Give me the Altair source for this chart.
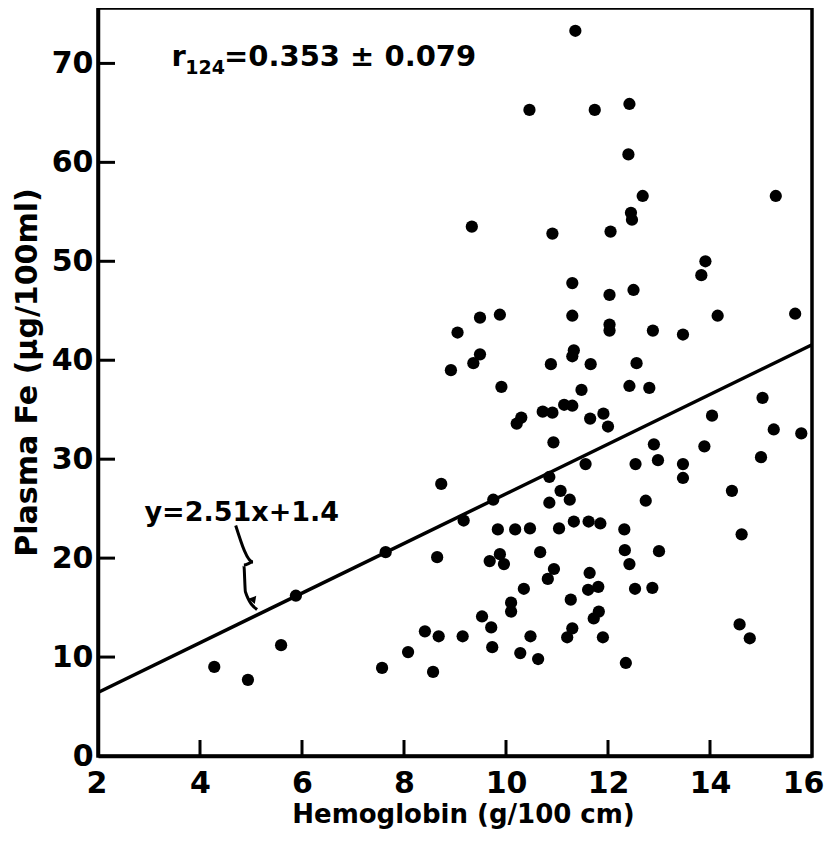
import altair as alt
import pandas as pd

# Data (Hemoglobin g/100 cm vs Plasma Fe ug/100ml)
hb = [11.36, 10.46, 11.74, 12.42, 12.40, 12.68, 15.29, 12.45, 12.47, 9.33,
      10.91, 12.05, 13.91, 13.83, 11.30, 12.03, 12.50, 9.49, 9.88, 9.05,
      11.30, 12.03, 12.03, 12.88, 13.47, 14.15, 15.67, 9.49, 9.36, 8.92,
      11.33, 11.30, 10.88, 11.66, 12.56, 9.91, 11.48, 12.42, 12.81, 15.03,
      10.72, 10.91, 11.14, 11.30, 10.30, 10.21, 11.65, 11.91, 12.00, 14.04,
      15.25, 15.79, 10.93, 12.90, 13.89, 12.54, 12.98, 13.47, 13.47, 15.00,
      11.56, 10.85, 8.73, 11.07, 11.25, 10.85, 12.74, 14.43, 9.75, 9.17,
      9.84, 10.18, 10.47, 11.04, 11.33, 11.62, 11.85, 12.32, 14.62, 8.65,
      9.68, 9.88, 9.96, 10.67, 10.94, 10.82, 12.33, 12.42, 13.00, 11.64,
      11.61, 11.81, 10.35, 12.53, 12.87, 11.27, 10.10, 10.10, 9.53, 9.71,
      11.82, 11.72, 14.58, 14.78, 11.30, 11.20, 10.48, 11.90, 8.68, 9.15,
      9.73, 10.28, 10.63, 12.35, 7.64, 5.88, 8.41, 8.08, 7.57, 8.57,
      5.59, 4.28, 4.94]
fe = [73.3, 65.3, 65.3, 65.9, 60.8, 56.6, 56.6, 54.9, 54.2, 53.5,
      52.8, 53.0, 50.0, 48.6, 47.8, 46.6, 47.1, 44.3, 44.6, 42.8,
      44.5, 43.6, 43.0, 43.0, 42.6, 44.5, 44.7, 40.6, 39.7, 39.0,
      41.0, 40.4, 39.6, 39.6, 39.7, 37.3, 37.0, 37.4, 37.2, 36.2,
      34.8, 34.7, 35.5, 35.4, 34.2, 33.6, 34.1, 34.6, 33.3, 34.4,
      33.0, 32.6, 31.7, 31.5, 31.3, 29.5, 29.9, 29.5, 28.1, 30.2,
      29.5, 28.2, 27.5, 26.8, 25.9, 25.6, 25.8, 26.8, 25.9, 23.8,
      22.9, 22.9, 23.0, 23.0, 23.7, 23.7, 23.5, 22.9, 22.4, 20.1,
      19.7, 20.4, 19.4, 20.6, 18.9, 17.9, 20.8, 19.4, 20.7, 18.5,
      16.8, 17.1, 16.9, 16.9, 17.0, 15.8, 15.5, 14.6, 14.1, 13.0,
      14.6, 13.9, 13.3, 11.9, 12.9, 12.0, 12.1, 12.0, 12.1, 12.1,
      11.0, 10.4, 9.8, 9.4, 20.6, 16.2, 12.6, 10.5, 8.9, 8.5,
      11.2, 9.0, 7.7]

x_ticks = [2, 4, 6, 8, 10, 12, 14, 16]
y_ticks = [0, 10, 20, 30, 40, 50, 60, 70]
x_inner_ticks = [4, 6, 8, 10, 12, 14]
y_inner_ticks = [10, 20, 30, 40, 50, 60, 70]

slope, intercept = 2.51, 1.4
line_x = [2, 16]

# annotation arrow path (data coordinates)
arrow_x = [4.70, 5.04, 4.86, 4.89, 5.12]
arrow_y = [23.3, 19.6, 19.3, 16.6, 14.8]

FONT = "DejaVu Sans"
XDOM = [2, 16]
YDOM = [0, 75.6]
W, H = 714, 748

pts = pd.DataFrame({"hb": hb, "fe": fe})
line_df = pd.DataFrame({"hb": line_x, "fe": [slope * v + intercept for v in line_x]})
arrow_df = pd.DataFrame({"hb": arrow_x, "fe": arrow_y, "o": list(range(len(arrow_x)))})

xs = alt.Scale(domain=XDOM, nice=False, zero=False)
ys = alt.Scale(domain=YDOM, nice=False, zero=False)

xenc = alt.X("hb:Q", scale=xs, axis=alt.Axis(
    values=x_ticks, ticks=False, grid=False, domain=True, domainColor="black",
    domainWidth=3.5, labelFontSize=30,
    labelFont=FONT, labelFontWeight="bold", labelColor="black", labelPadding=12,
    labelFlush=True, labelFlushOffset=12,
    title="Hemoglobin (g/100 cm)", titleFont=FONT, titleFontSize=26,
    titleFontWeight="bold", titleColor="black", titleY=45, titleX=W / 2 + 8,
    titleBaseline="top"))
yenc = alt.Y("fe:Q", scale=ys, axis=alt.Axis(
    values=y_ticks, ticks=False, grid=False, domain=True, domainColor="black",
    domainWidth=3.5, labelFontSize=30,
    labelFont=FONT, labelFontWeight="bold", labelColor="black", labelPadding=5,
    title="Plasma Fe (μg/100ml)", titleFont=FONT, titleFontSize=30,
    titleFontWeight="bold", titleColor="black", titleX=-71, titleY=364,
    titleAngle=270, titleBaseline="middle", titleAlign="center",
    minExtent=90, maxExtent=90, labelFlush=False))

points = alt.Chart(pts).mark_circle(size=150, color="black", opacity=1).encode(x=xenc, y=yenc)

reg = alt.Chart(line_df).mark_line(color="black", strokeWidth=3.5).encode(
    x=alt.X("hb:Q", scale=xs), y=alt.Y("fe:Q", scale=ys))

arrow = alt.Chart(arrow_df).mark_line(color="black", strokeWidth=3, interpolate="monotone").encode(
    x=alt.X("hb:Q", scale=xs), y=alt.Y("fe:Q", scale=ys), order="o:O")

head = alt.Chart(pd.DataFrame({"hb": [5.05], "fe": [15.7]})).mark_point(
    shape="triangle-down", filled=True, color="black", size=70, opacity=1, angle=340
).encode(x=alt.X("hb:Q", scale=xs), y=alt.Y("fe:Q", scale=ys))

yt = alt.Chart(pd.DataFrame({"fe": y_inner_ticks})).mark_rule(color="black", strokeWidth=3).encode(
    y=alt.Y("fe:Q", scale=ys), x=alt.value(0), x2=alt.value(17))
xt = alt.Chart(pd.DataFrame({"hb": x_inner_ticks})).mark_rule(color="black", strokeWidth=3).encode(
    x=alt.X("hb:Q", scale=xs), y=alt.value(H), y2=alt.value(H - 16))

def txt(s, x, y, size, dy=0):
    return alt.Chart(pd.DataFrame({"hb": [x], "fe": [y], "t": [s]})).mark_text(
        align="left", baseline="alphabetic", font=FONT, fontWeight="bold",
        fontSize=size, color="black", dy=dy
    ).encode(x=alt.X("hb:Q", scale=xs), y=alt.Y("fe:Q", scale=ys), text="t:N")

r1 = txt("r", 3.44, 69.7, 29)
r2 = txt("124", 3.71, 68.9, 19)
r3 = txt("=0.353 ± 0.079", 4.47, 69.7, 29)
eq = txt("y=2.51x+1.4", 2.91, 23.8, 27)

chart = alt.layer(points, reg, arrow, head, yt, xt, r1, r2, r3, eq).properties(
    width=W, height=H,
    padding={"left": 0, "top": 0, "right": 0, "bottom": 7}
).configure_view(stroke="black", strokeWidth=3.5)

chart.save("out.html", embed_options={"renderer": "svg", "actions": False})
